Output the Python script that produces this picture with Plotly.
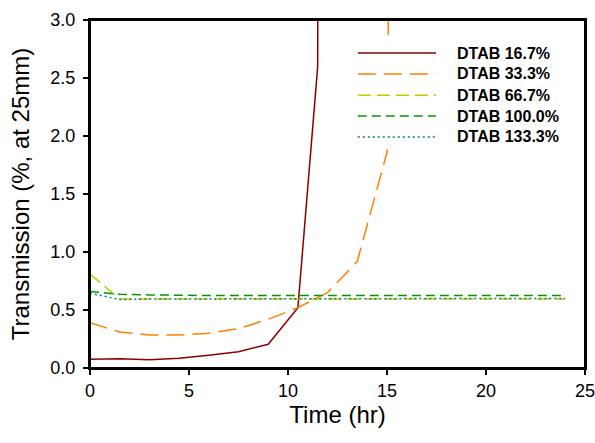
import plotly.graph_objects as go

# Data
t_167 = [0, 1.5, 3, 4.5, 6, 7.5, 9, 10.5, 11.5, 11.52]
v_167 = [0.075, 0.08, 0.072, 0.085, 0.11, 0.14, 0.205, 0.52, 2.6, 5.0]

t_333 = [0, 1.5, 3, 4.5, 6, 7.5, 9, 10.5, 12, 13.5, 15, 15.1]
v_333 = [0.39, 0.31, 0.285, 0.285, 0.30, 0.34, 0.42, 0.52, 0.65, 0.92, 1.86, 3.6]

t_flat = [0, 1.5, 3, 4.5, 6, 7.5, 9, 10.5, 12, 13.5, 15, 16.5, 18, 19.5, 21, 22.5, 24]
v_667 = [0.81, 0.595, 0.595, 0.595, 0.595, 0.595, 0.595, 0.595, 0.595, 0.595, 0.595, 0.595, 0.595, 0.595, 0.595, 0.595, 0.595]
v_1000 = [0.66, 0.635, 0.63, 0.625, 0.625, 0.625, 0.625, 0.625, 0.628, 0.628, 0.625, 0.625, 0.625, 0.625, 0.625, 0.625, 0.625]
v_1333 = [0.645, 0.59, 0.595, 0.595, 0.598, 0.598, 0.598, 0.6, 0.6, 0.6, 0.6, 0.6, 0.6, 0.6, 0.6, 0.6, 0.6]

names = ["DTAB 16.7%", "DTAB 33.3%", "DTAB 66.7%", "DTAB 100.0%", "DTAB 133.3%"]
colors = ["#8B0000", "#FF8000", "#C8C800", "#009900", "#008080"]
dashes = ["solid", "18px,8px", "13px,6px", "9px,5px", "2px,3px"]
series = [(t_167, v_167), (t_333, v_333), (t_flat, v_667), (t_flat, v_1000), (t_flat, v_1333)]

x_ticks = [0, 5, 10, 15, 20, 25]
y_ticks = [0.0, 0.5, 1.0, 1.5, 2.0, 2.5, 3.0]

fig = go.Figure()
for (tx, vy), nm, c, d in zip(series, names, colors, dashes):
    fig.add_trace(go.Scatter(x=tx, y=vy, mode="lines", name=nm,
                             line=dict(color=c, width=1.5, dash=d),
                             showlegend=False))

# Manual legend (white box hides lines behind, like the original)
shapes = [dict(type="rect", xref="paper", yref="paper", x0=0.525, x1=0.99,
               y0=0.628, y1=0.948, fillcolor="white", line=dict(width=0),
               layer="above"),
          dict(type="rect", xref="paper", yref="paper", x0=0, x1=1, y0=0, y1=1,
               line=dict(color="black", width=2), fillcolor="rgba(0,0,0,0)",
               layer="above")]
annotations = []
ly = [0.905, 0.845, 0.784, 0.724, 0.664]
for nm, c, d, yy in zip(names, colors, dashes, ly):
    shapes.append(dict(type="line", xref="paper", yref="paper", x0=0.541, x1=0.699,
                       y0=yy, y1=yy, line=dict(color=c, width=1.5, dash=d),
                       layer="above"))
    annotations.append(dict(xref="paper", yref="paper", x=0.737, y=yy, text="<b>%s</b>" % nm,
                            showarrow=False, xanchor="left", yanchor="middle",
                            font=dict(family="Liberation Sans, Arial", size=16, color="black")))

fig.update_layout(
    width=595, height=443,
    margin=dict(l=90, r=10, t=20, b=75, autoexpand=False),
    plot_bgcolor="white", paper_bgcolor="white",
    font=dict(family="Liberation Sans, Arial", size=18, color="black"),
    shapes=shapes, annotations=annotations,
    xaxis=dict(range=[0, 25], tickvals=x_ticks, ticktext=[str(v) for v in x_ticks],
               automargin=False, ticklabeloverflow="allow",
               showgrid=False, zeroline=False, showline=True, linecolor="black",
               linewidth=2, mirror=True, ticks="outside", ticklen=5, tickwidth=1.5,
               tickcolor="black", tickfont=dict(size=18),
               title=dict(text="Time (hr)", font=dict(size=24), standoff=4)),
    yaxis=dict(range=[0, 3.0], tickvals=y_ticks, ticktext=["%.1f" % v for v in y_ticks],
               automargin=False, ticklabeloverflow="allow",
               showgrid=False, zeroline=False, showline=True, linecolor="black",
               linewidth=2, mirror=True, ticks="outside", ticklen=5, tickwidth=1.5,
               tickcolor="black", tickfont=dict(size=18), ticklabelstandoff=4,
               title=dict(text="Transmission (%, at 25mm)", font=dict(size=24), standoff=14)),
)

fig.write_html("out.html", config={"displayModeBar": False},
               post_script="document.body.style.margin='0';document.body.style.overflow='hidden';")
